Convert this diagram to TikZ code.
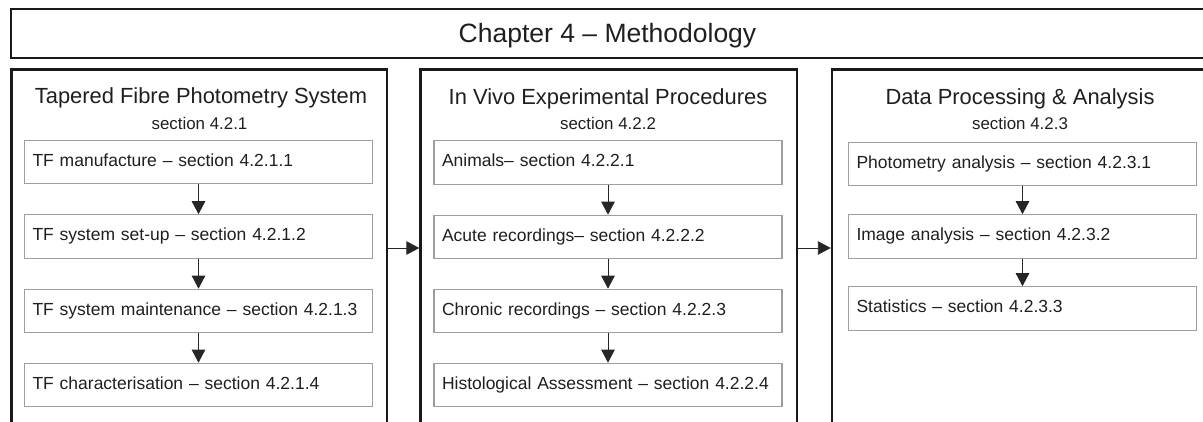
\documentclass[tikz,border=0pt]{standalone}
\usepackage{fontspec}
\setmainfont{Liberation Sans}
\usetikzlibrary{arrows.meta}
\begin{document}
\begin{tikzpicture}[x=1pt,y=-1pt,
  frame/.style={draw=black!90, line width=2.4pt, inner sep=0pt},
  stepbox/.style={draw=black!38, line width=1.1pt, minimum width=348pt, minimum height=43.5pt,
    text width=332pt, inner xsep=8pt, inner ysep=0pt, align=left,
    text height=12.5pt, text depth=4pt, font=\fontsize{17.5}{19}\selectfont, text=black!88},
  chaptitle/.style={anchor=base, font=\fontsize{26.5}{28}\selectfont, text=black!88, inner sep=0pt},
  coltitle/.style={anchor=base, font=\fontsize{21.9}{24}\selectfont, text=black!88, inner sep=0pt},
  colsub/.style={anchor=base, font=\fontsize{16.9}{18}\selectfont, text=black!88, inner sep=0pt},
  flow/.style={draw=black!85, line width=0.9pt, -{Triangle[width=13.5pt,length=13pt]}},
]
\useasboundingbox (0,0) rectangle (1203,421);
\clip (0,0) rectangle (1203,421);

% chapter banner
\node[frame, minimum width=1196pt, minimum height=49pt] (chap) at (609,33.5) {};
\node[chaptitle] (chaptext) at (607.5,42) {Chapter 4 – Methodology};

% three column frames (running past the lower edge)
\node[frame, minimum width=375.5pt, minimum height=380pt] (c1) at (199.25,259.5) {};
\node[frame, minimum width=376.5pt, minimum height=380pt] (c2) at (608.75,259.5) {};
\node[frame, minimum width=376pt,   minimum height=380pt] (c3) at (1020,259.5) {};

% column headings
\node[coltitle] (t1) at (201,103) {Tapered Fibre Photometry System};
\node[colsub]   (s1) at (199.5,129) {section 4.2.1};
\node[coltitle] (t2) at (608,104) {In Vivo Experimental Procedures};
\node[colsub]   (s2) at (608,129) {section 4.2.2};
\node[coltitle] (t3) at (1020,104) {Data Processing \& Analysis};
\node[colsub]   (s3) at (1020,129) {section 4.2.3};

% column 1 steps
\node[stepbox] (a1) at (198.5,162)   {TF manufacture – section 4.2.1.1};
\node[stepbox] (a2) at (198.5,236.5) {TF system set-up – section 4.2.1.2};
\node[stepbox] (a3) at (198.5,311)   {TF system maintenance – section 4.2.1.3};
\node[stepbox] (a4) at (198.5,385)   {TF characterisation – section 4.2.1.4};

% column 2 steps
\node[stepbox] (b1) at (608,162.5)   {Animals– section 4.2.2.1};
\node[stepbox] (b2) at (608,237)     {Acute recordings– section 4.2.2.2};
\node[stepbox] (b3) at (608,311)     {Chronic recordings – section 4.2.2.3};
\node[stepbox] (b4) at (608,385)     {Histological Assessment – section 4.2.2.4};

% column 3 steps
\node[stepbox] (d1) at (1022.5,164)  {Photometry analysis – section 4.2.3.1};
\node[stepbox] (d2) at (1022.5,236.5){Image analysis – section 4.2.3.2};
\node[stepbox] (d3) at (1022.5,308.5){Statistics – section 4.2.3.3};

% flow within columns
\draw[flow] (a1) -- (a2);
\draw[flow] (a2) -- (a3);
\draw[flow] (a3) -- (a4);
\draw[flow] (b1) -- (b2);
\draw[flow] (b2) -- (b3);
\draw[flow] (b3) -- (b4);
\draw[flow] (d1) -- (d2);
\draw[flow] (d2) -- (d3);

% flow between columns
\draw[flow] (c1.east |- 0,248) -- (c2.west |- 0,248);
\draw[flow] (c2.east |- 0,248) -- (c3.west |- 0,248);
\end{tikzpicture}
\end{document}
